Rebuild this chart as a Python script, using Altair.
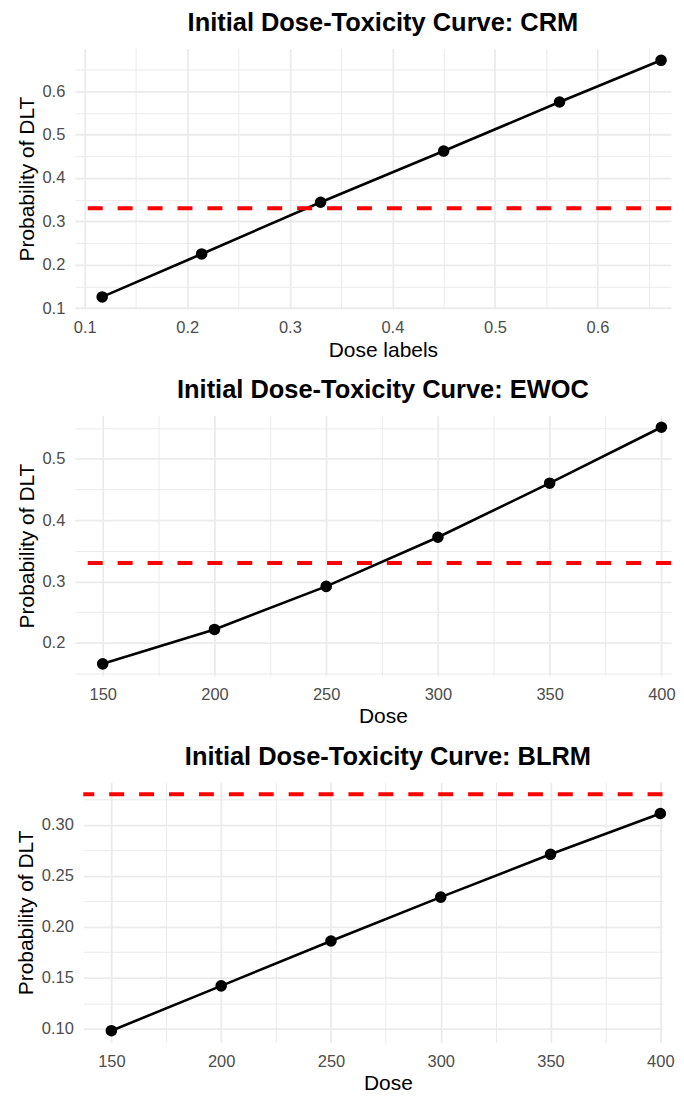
import altair as alt
import pandas as pd

# ---------------- data ----------------
crm_dose = [0.117, 0.214, 0.330, 0.450, 0.563, 0.662]
crm_prob = [0.126, 0.225, 0.344, 0.462, 0.575, 0.671]

ewoc_dose = [150, 200, 250, 300, 350, 400]
ewoc_prob = [0.166, 0.222, 0.292, 0.372, 0.460, 0.551]

blrm_dose = [150, 200, 250, 300, 350, 400]
blrm_prob = [0.098, 0.142, 0.186, 0.229, 0.271, 0.311]

target = [0.33]

titles = ["Initial Dose-Toxicity Curve: CRM",
          "Initial Dose-Toxicity Curve: EWOC",
          "Initial Dose-Toxicity Curve: BLRM"]
x_titles = ["Dose labels", "Dose", "Dose"]

# tick values (major labelled, minor grid only)
crm_x_major = [0.1, 0.2, 0.3, 0.4, 0.5, 0.6]
crm_x_minor = [0.15, 0.25, 0.35, 0.45, 0.55, 0.65]
crm_y_major = [0.1, 0.2, 0.3, 0.4, 0.5, 0.6]
crm_y_minor = [0.15, 0.25, 0.35, 0.45, 0.55, 0.65]

dose_x_major = [150, 200, 250, 300, 350, 400]
dose_x_minor = [175, 225, 275, 325, 375]

ewoc_y_major = [0.2, 0.3, 0.4, 0.5]
ewoc_y_minor = [0.15, 0.25, 0.35, 0.45, 0.55]

blrm_y_major = [0.10, 0.15, 0.20, 0.25, 0.30]
blrm_y_minor = [0.125, 0.175, 0.225, 0.275, 0.325]

# ---------------- styling ----------------
FONT = "Liberation Sans"
GRID = "#ebebeb"
MAJOR_W = 1.8
MINOR_W = 1.0
PLOT_H = 261


def make_axis(major, minor, fmt, title, extra):
    minors_js = "[" + ",".join(repr(v) for v in minor) + "]"
    test = f"indexof({minors_js}, datum.value) >= 0"
    return alt.Axis(
        values=sorted(major + minor),
        tickCount=100,
        format=fmt,
        labelExpr=f"{test} ? '' : datum.label",
        labelOverlap=False,
        labelBound=False,
        gridWidth={"condition": {"test": test, "value": MINOR_W}, "value": MAJOR_W},
        title=title,
        **extra,
    )


def panel(dose, prob, title, xtitle, xdom, ydom, xmaj, xmin, xfmt, ymaj, ymin, yfmt,
          width, title_dx, xtitle_x):
    df = pd.DataFrame({"dose": dose, "prob": prob})
    tdf = pd.DataFrame({"t": target})
    xax = make_axis(xmaj, xmin, xfmt, xtitle,
                    dict(labelPadding=11, titlePadding=3, titleX=xtitle_x))
    yax = make_axis(ymaj, ymin, yfmt, "Probability of DLT",
                    dict(labelPadding=10, titlePadding=8.5, titleBaseline="alphabetic"))
    x = alt.X("dose:Q", scale=alt.Scale(domain=xdom, nice=False, zero=False), axis=xax)
    y = alt.Y("prob:Q", scale=alt.Scale(domain=ydom, nice=False, zero=False), axis=yax)
    base = alt.Chart(df).encode(x=x, y=y)
    line = base.mark_line(color="black", strokeWidth=2.6)
    pts = base.mark_circle(color="black", opacity=1, size=135)
    rule = alt.Chart(tdf).mark_rule(color="#ff0000", strokeWidth=4, strokeDash=[15, 15]).encode(
        y=alt.Y("t:Q")
    )
    return alt.layer(line, pts, rule).properties(
        width=width, height=PLOT_H,
        title=alt.TitleParams(title, fontSize=25.5, fontWeight="bold", font=FONT,
                              color="black", anchor="middle", frame="group",
                              baseline="alphabetic", offset=17, dy=25, dx=title_dx),
    )


p1 = panel(crm_dose, crm_prob, titles[0], x_titles[0], [0.0903, 0.6717], [0.0988, 0.6982],
           crm_x_major, crm_x_minor, ".1f", crm_y_major, crm_y_minor, ".1f",
           598, 10, 309)
p2 = panel(ewoc_dose, ewoc_prob, titles[1], x_titles[1], [137.5, 404.3], [0.1468, 0.5703],
           dose_x_major, dose_x_minor, "d", ewoc_y_major, ewoc_y_minor, ".1f",
           598, 10, 309)
p3 = panel(blrm_dose, blrm_prob, titles[2], x_titles[2], [137.2, 401.0], [0.0864, 0.3416],
           dose_x_major, dose_x_minor, "d", blrm_y_major, blrm_y_minor, ".2f",
           581, 15, 305.5)

chart = alt.vconcat(p1, p2, p3, spacing=107, bounds="flush", center=True).properties(
    padding={"left": 7, "top": 1, "right": 0, "bottom": 0},
    background="white",
).configure_view(stroke=None).configure_axis(
    domain=False, ticks=False, tickSize=0,
    gridColor=GRID,
    labelFont=FONT, labelFontSize=16.5, labelColor="#4d4d4d",
    titleFont=FONT, titleFontSize=21, titleColor="black", titleFontWeight="normal",
)

chart.save("out.html", embed_options={"renderer": "svg", "actions": False})
